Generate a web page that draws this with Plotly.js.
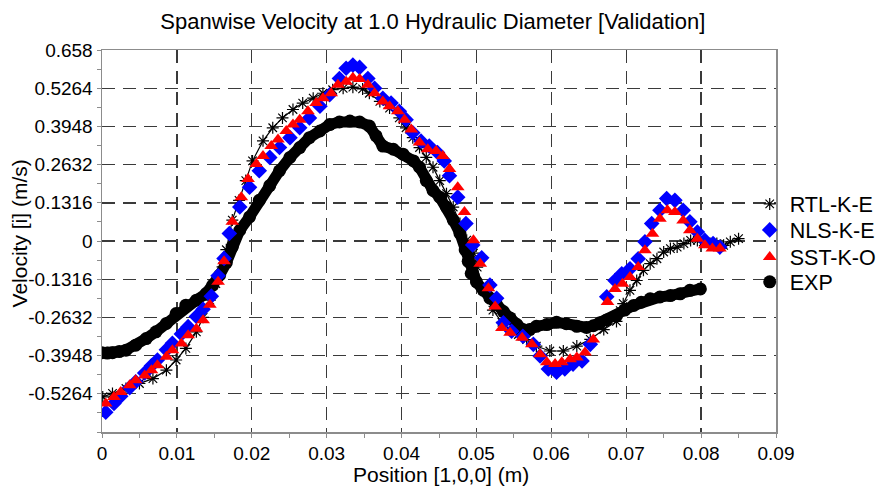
<!DOCTYPE html>
<html>
<head>
<meta charset="utf-8">
<script src="https://cdn.plot.ly/plotly-3.0.1.min.js"></script>
<style>
html,body{margin:0;padding:0;background:#fff;}
#chart{width:887px;height:489px;}
</style>
</head>
<body>
<div id="chart"></div>
<script>
// ---- data ----
const rtlX = [0.0001,0.0014,0.0032,0.0050,0.0068,0.0086,0.0099,0.0112,0.0126,0.0135,0.0144,0.0152,0.0161,0.0166,0.0174,0.0183,0.0192,0.0201,0.0215,0.0228,0.0241,0.0255,0.0268,0.0282,0.0295,0.0308,0.0322,0.0335,0.0348,0.0357,0.0371,0.0384,0.0397,0.0406,0.0415,0.0424,0.0433,0.0442,0.0451,0.0460,0.0469,0.0478,0.0487,0.0496,0.0501,0.0509,0.0522,0.0534,0.0545,0.0556,0.0567,0.0580,0.0598,0.0616,0.0634,0.0652,0.0670,0.0687,0.0692,0.0696,0.0705,0.0714,0.0723,0.0732,0.0741,0.0750,0.0759,0.0768,0.0777,0.0786,0.0795,0.0803,0.0812,0.0821,0.0830,0.0839,0.0850];
const rtlY = [-0.537,-0.525,-0.508,-0.491,-0.474,-0.445,-0.410,-0.370,-0.313,-0.263,-0.204,-0.147,-0.089,-0.030,0.072,0.140,0.208,0.276,0.345,0.390,0.424,0.453,0.475,0.492,0.509,0.521,0.526,0.530,0.524,0.509,0.481,0.458,0.424,0.390,0.356,0.322,0.288,0.254,0.208,0.163,0.117,0.060,0.003,-0.042,-0.090,-0.170,-0.238,-0.280,-0.307,-0.322,-0.340,-0.362,-0.379,-0.379,-0.362,-0.339,-0.305,-0.277,-0.240,-0.216,-0.170,-0.136,-0.101,-0.078,-0.061,-0.038,-0.026,-0.021,-0.009,0.002,0.002,-0.003,-0.009,-0.009,-0.015,-0.003,0.008];

const nlsX = [0.0005,0.0016,0.0025,0.0037,0.0045,0.0057,0.0066,0.0074,0.0086,0.0094,0.0106,0.0115,0.0126,0.0135,0.0146,0.0155,0.0163,0.0170,0.0184,0.0197,0.0210,0.0224,0.0237,0.0251,0.0264,0.0277,0.0291,0.0304,0.0317,0.0326,0.0335,0.0344,0.0355,0.0364,0.0375,0.0386,0.0397,0.0406,0.0415,0.0426,0.0437,0.0448,0.0457,0.0464,0.0475,0.0486,0.0495,0.0507,0.0518,0.0527,0.0536,0.0547,0.0562,0.0576,0.0585,0.0596,0.0607,0.0618,0.0629,0.0641,0.0652,0.0674,0.0685,0.0694,0.0705,0.0716,0.0725,0.0734,0.0745,0.0754,0.0765,0.0776,0.0785,0.0795,0.0805,0.0816,0.0825];
const nlsY = [-0.590,-0.560,-0.535,-0.505,-0.485,-0.455,-0.430,-0.410,-0.375,-0.352,-0.320,-0.295,-0.260,-0.235,-0.190,-0.120,-0.060,0.026,0.117,0.185,0.242,0.288,0.322,0.356,0.390,0.424,0.464,0.504,0.560,0.595,0.606,0.598,0.560,0.526,0.492,0.475,0.447,0.418,0.373,0.344,0.327,0.305,0.276,0.225,0.151,0.060,-0.014,-0.058,-0.152,-0.197,-0.282,-0.311,-0.328,-0.356,-0.396,-0.441,-0.452,-0.441,-0.424,-0.413,-0.356,-0.192,-0.136,-0.113,-0.096,-0.061,-0.003,0.060,0.106,0.146,0.140,0.106,0.066,0.031,0.002,-0.009,-0.021];

const sstX = [0.0005,0.0016,0.0025,0.0037,0.0045,0.0057,0.0066,0.0074,0.0086,0.0094,0.0106,0.0115,0.0126,0.0135,0.0144,0.0155,0.0163,0.0174,0.0186,0.0195,0.0206,0.0215,0.0226,0.0235,0.0246,0.0255,0.0264,0.0275,0.0286,0.0295,0.0306,0.0315,0.0326,0.0335,0.0344,0.0355,0.0364,0.0375,0.0384,0.0395,0.0404,0.0413,0.0424,0.0435,0.0446,0.0455,0.0464,0.0475,0.0484,0.0496,0.0505,0.0516,0.0525,0.0534,0.0545,0.0561,0.0574,0.0585,0.0594,0.0605,0.0614,0.0625,0.0634,0.0645,0.0656,0.0675,0.0685,0.0695,0.0705,0.0716,0.0725,0.0735,0.0745,0.0755,0.0765,0.0776,0.0785,0.0795,0.0805,0.0815,0.0825];
const sstY = [-0.560,-0.537,-0.520,-0.497,-0.480,-0.463,-0.445,-0.428,-0.399,-0.376,-0.353,-0.325,-0.302,-0.273,-0.220,-0.140,-0.070,0.066,0.151,0.214,0.265,0.293,0.327,0.350,0.379,0.401,0.418,0.447,0.475,0.492,0.509,0.538,0.549,0.562,0.558,0.538,0.509,0.481,0.464,0.447,0.418,0.384,0.339,0.316,0.310,0.293,0.248,0.185,0.100,0.003,-0.078,-0.163,-0.226,-0.300,-0.316,-0.333,-0.356,-0.390,-0.418,-0.424,-0.418,-0.407,-0.401,-0.384,-0.339,-0.210,-0.165,-0.147,-0.124,-0.090,-0.032,0.025,0.077,0.106,0.100,0.071,0.037,0.008,-0.015,-0.026,-0.026];

const expX = [0.0000,0.0007,0.0014,0.0023,0.0032,0.0045,0.0059,0.0072,0.0086,0.0099,0.0112,0.0126,0.0139,0.0148,0.0157,0.0166,0.0174,0.0184,0.0197,0.0210,0.0224,0.0237,0.0251,0.0264,0.0277,0.0291,0.0304,0.0317,0.0331,0.0344,0.0357,0.0366,0.0375,0.0389,0.0402,0.0416,0.0424,0.0433,0.0442,0.0451,0.0460,0.0469,0.0478,0.0485,0.0489,0.0493,0.0500,0.0509,0.0518,0.0527,0.0536,0.0545,0.0554,0.0562,0.0571,0.0580,0.0594,0.0607,0.0620,0.0634,0.0647,0.0656,0.0665,0.0674,0.0687,0.0698,0.0710,0.0720,0.0732,0.0745,0.0759,0.0772,0.0785,0.0799];
const expY = [-0.385,-0.386,-0.385,-0.381,-0.376,-0.359,-0.336,-0.313,-0.284,-0.250,-0.221,-0.204,-0.181,-0.152,-0.118,-0.075,-0.020,0.037,0.083,0.140,0.191,0.242,0.288,0.322,0.356,0.379,0.401,0.410,0.413,0.410,0.396,0.362,0.327,0.316,0.299,0.276,0.254,0.208,0.174,0.151,0.117,0.072,0.026,-0.031,-0.070,-0.112,-0.141,-0.169,-0.197,-0.220,-0.243,-0.265,-0.288,-0.305,-0.305,-0.294,-0.288,-0.280,-0.285,-0.294,-0.298,-0.292,-0.282,-0.272,-0.258,-0.238,-0.222,-0.211,-0.199,-0.193,-0.188,-0.182,-0.170,-0.165];

const xTickVals = [0,0.01,0.02,0.03,0.04,0.05,0.06,0.07,0.08,0.09];
const xTickText = ['0','0.01','0.02','0.03','0.04','0.05','0.06','0.07','0.08','0.09'];
const yTickVals = [-0.5264,-0.3948,-0.2632,-0.1316,0,0.1316,0.2632,0.3948,0.5264,0.658];
const yTickText = ['-0.5264','-0.3948','-0.2632','-0.1316','0','0.1316','0.2632','0.3948','0.5264','0.658'];

const titleText = 'Spanwise Velocity at 1.0 Hydraulic Diameter [Validation]';
const xTitleText = 'Position [1,0,0] (m)';
const yTitleText = 'Velocity [i] (m/s)';

const FONT = 'Liberation Sans, Arial, sans-serif';

const traces = [
  // dense measured band (EXP) and asterisk chain (RTL) drawn as connecting strokes behind markers
  {name:'EXP', x:expX, y:expY, type:'scatter', mode:'lines', showlegend:false, hoverinfo:'skip',
   line:{color:'#000000', width:11}},
  {name:'EXP', x:expX, y:expY, type:'scatter', mode:'markers', legend:'legend4',
   marker:{symbol:'circle', size:13, color:'#000000'}},
  {name:'RTL-K-E', x:rtlX, y:rtlY, type:'scatter', mode:'lines', showlegend:false, hoverinfo:'skip',
   line:{color:'#000000', width:1.2}},
  {name:'RTL-K-E', x:rtlX, y:rtlY, type:'scatter', mode:'markers', legend:'legend',
   marker:{symbol:'asterisk-open', size:10, color:'#000000', line:{color:'#000000', width:1.2}}},
  {name:'NLS-K-E', x:nlsX, y:nlsY, type:'scatter', mode:'markers', legend:'legend2',
   marker:{symbol:'diamond', size:12, color:'#0000ff'}},
  {name:'SST-K-O', x:sstX, y:sstY, type:'scatter', mode:'markers', legend:'legend3',
   marker:{symbol:'triangle-up', size:12, color:'#ff0000'}}
];

const axisCommon = {
  showline:true, linecolor:'#8c8c8c', linewidth:1.5, mirror:true,
  ticks:'outside', ticklen:4, tickcolor:'#8c8c8c', tickwidth:1,
  showgrid:true, gridcolor:'#3a3a3a', gridwidth:1.4, griddash:'13px,8px',
  zeroline:false, automargin:false, tickfont:{family:FONT, size:19, color:'#000'}
};

function legendAt(yPaper){
  return {x:0.961, xanchor:'left', y:yPaper, yanchor:'middle', bgcolor:'rgba(0,0,0,0)',
          borderwidth:0, font:{family:FONT, size:21.5, color:'#000'}};
}

const layout = {
  width:887, height:489,
  margin:{l:102, r:111, t:50, b:57, autoexpand:false},
  paper_bgcolor:'#ffffff', plot_bgcolor:'#ffffff',
  font:{family:FONT, color:'#000'},
  title:{text:titleText,
         font:{family:FONT, size:22, color:'#000'}, x:0.488, xanchor:'center', y:0.957, yanchor:'middle'},
  xaxis:Object.assign({}, axisCommon, {
    range:[0,0.09], tickmode:'array', tickvals:xTickVals, ticktext:xTickText,
    minor:{dtick:0.005, tick0:0, ticks:'outside', ticklen:4, tickcolor:'#8c8c8c', showgrid:false}
  }),
  yaxis:Object.assign({}, axisCommon, {
    range:[-0.658,0.658], tickmode:'array', tickvals:yTickVals, ticktext:yTickText,
    minor:{dtick:0.0658, tick0:0, ticks:'outside', ticklen:4, tickcolor:'#8c8c8c', showgrid:false}
  }),
  annotations:[
    {text:xTitleText, xref:'paper', yref:'paper', x:0.503, y:-0.111, xanchor:'center', yanchor:'middle',
     showarrow:false, font:{family:FONT, size:21, color:'#000'}},
    {text:yTitleText, xref:'paper', yref:'paper', x:-0.123, y:0.52, xanchor:'center', yanchor:'middle',
     textangle:-90, showarrow:false, font:{family:FONT, size:21, color:'#000'}}
  ],
  showlegend:true,
  legend:legendAt(0.597),
  legend2:legendAt(0.529),
  legend3:legendAt(0.458),
  legend4:legendAt(0.393)
};

Plotly.newPlot('chart', traces, layout, {displayModeBar:false, staticPlot:true});
</script>
</body>
</html>
